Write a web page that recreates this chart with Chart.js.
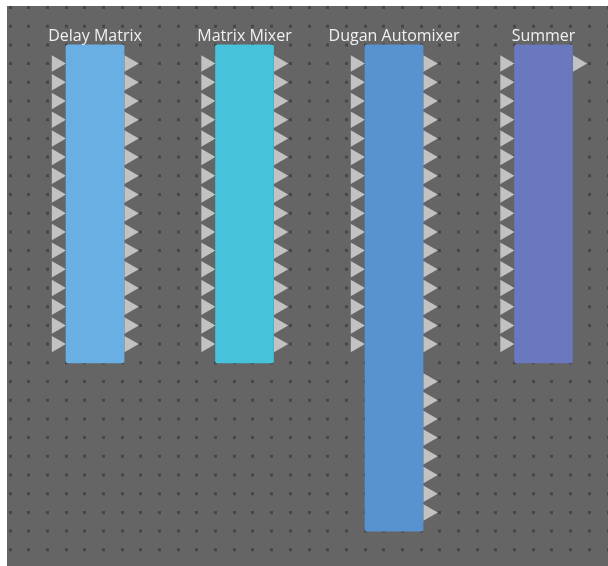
<!DOCTYPE html>
<html>
<head>
<meta charset="utf-8">
<script src="https://cdn.jsdelivr.net/npm/chart.js@4/dist/chart.umd.min.js"></script>
<style>
    html, body { margin: 0; padding: 0; background: #ffffff; }
    #wrap { width: 608px; height: 566px; }
</style>
</head>
<body>
<div id="wrap"><canvas id="chart-blocks" width="608" height="566"></canvas></div>
<script>
// block data (grid units: one unit = one dot of the canvas grid)
const blockNames = ["Delay Matrix", "Matrix Mixer", "Dugan Automixer", "Summer"]
const blockCol = [3, 11, 19, 27]
const blockTop = [2, 2, 2, 2]
const blockBottom = [19, 19, 28, 19]
const blockColors = ["#6aafe3", "#46c3da", "#5893d0", "#6a78be"]
const inputCount = [16, 16, 16, 16]
const outputCount = [16, 16, 16, 1]
const extraOutputCount = [0, 0, 8, 0]
const firstPortRow = 3
const extraPortRow = 20

const halfWidth = 1.55
const inOffset = -0.51
const outOffset = 3.38

const inputs = []
const outputs = []
blockNames.forEach((name, i) => {
    for (let r = 0; r < inputCount[i]; r++) inputs.push({ x: blockCol[i] + inOffset, y: firstPortRow + r })
    for (let r = 0; r < outputCount[i]; r++) outputs.push({ x: blockCol[i] + outOffset, y: firstPortRow + r })
    for (let r = 0; r < extraOutputCount[i]; r++) outputs.push({ x: blockCol[i] + outOffset, y: extraPortRow + r })
})

const blocks = blockNames.map((name, i) => ({ x: blockCol[i] + halfWidth, y: [blockTop[i], blockBottom[i]] }))

const background = {
    id: "background",
    beforeDraw: chart => {
        const { ctx, chartArea } = chart
        ctx.save()
        ctx.fillStyle = "#656565"
        ctx.fillRect(chartArea.left, chartArea.top, chartArea.right - chartArea.left, chartArea.bottom - chartArea.top)
        ctx.restore()
    }
}

const labels = {
    id: "labels",
    afterDatasetsDraw: chart => {
        const { ctx, scales } = chart
        ctx.save()
        ctx.font = "16px 'Open Sans'"
        ctx.fillStyle = "#f0f0f0"
        ctx.textAlign = "center"
        ctx.textBaseline = "alphabetic"
        blockNames.forEach((name, i) => {
            const x = scales.x.getPixelForValue(blockCol[i] + halfWidth)
            const y = scales.y.getPixelForValue(blockTop[i]) - 4
            ctx.fillText(name, x, y)
        })
        ctx.restore()
    }
}

new Chart("chart-blocks", {
    type: "bar",
    data: {
        datasets: [{
            type: "scatter",
            data: inputs,
            pointStyle: "triangle",
            rotation: 90,
            pointRadius: 9.5,
            pointBackgroundColor: "#c2c2c2",
            pointBorderWidth: 0
        },
        {
            type: "scatter",
            data: outputs,
            pointStyle: "triangle",
            rotation: 90,
            pointRadius: 9.5,
            pointBackgroundColor: "#c2c2c2",
            pointBorderWidth: 0
        },
        {
            type: "bar",
            data: blocks,
            backgroundColor: blockColors,
            barThickness: 58,
            borderRadius: 2,
            borderSkipped: false
        }]
    },
    options: {
        responsive: false,
        animation: false,
        events: [],
        layout: { autoPadding: false, padding: { left: 7, top: 6, right: 0, bottom: 0 } },
        plugins: {
            legend: { display: false },
            tooltip: { enabled: false }
        },
        scales: {
            x: {
                type: "linear",
                min: -0.1606,
                max: 32,
                offset: false,
                afterFit: scale => { scale.height = 0 },
                border: { display: false, dash: [3, 15.7], dashOffset: 0 },
                ticks: { display: false, stepSize: 1, includeBounds: false },
                grid: {
                    display: true,
                    offset: false,
                    drawTicks: false,
                    color: "#474747",
                    lineWidth: 3
                }
            },
            y: {
                type: "linear",
                display: false,
                reverse: true,
                min: -0.0802,
                max: 29.866
            }
        }
    },
    plugins: [background, labels]
})
</script>
</body>
</html>
